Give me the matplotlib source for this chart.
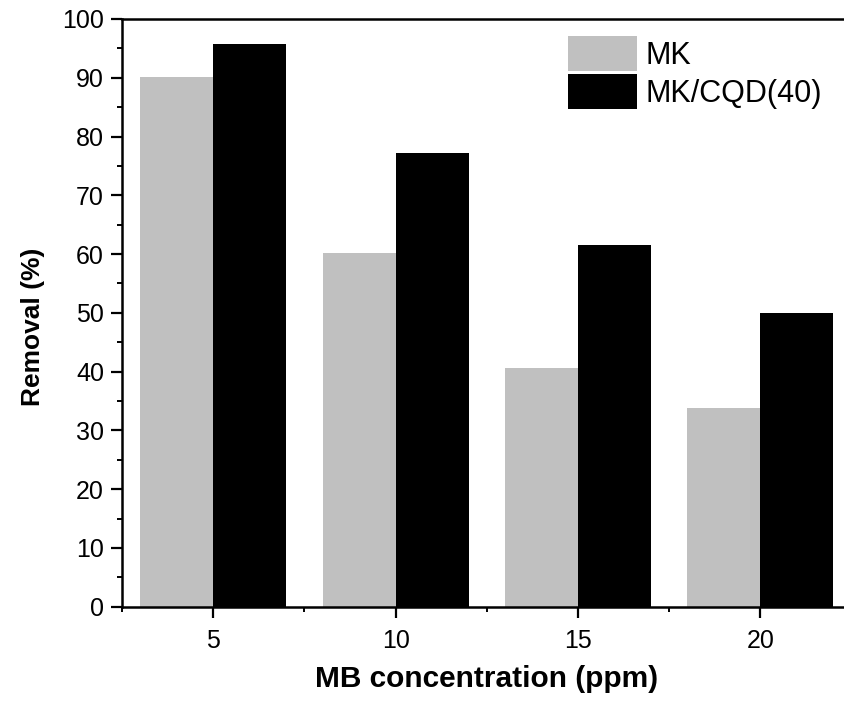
import matplotlib
matplotlib.use("Agg")
import matplotlib.pyplot as plt
from matplotlib.ticker import MultipleLocator, FixedLocator
import numpy as np

concentrations = [5, 10, 15, 20]
mk_removal = [90.1, 60.1, 40.7, 33.8]
mkcqd_removal = [95.7, 77.2, 61.5, 49.9]
series_labels = ["MK", "MK/CQD(40)"]

plt.rcParams['font.family'] = ['Liberation Sans', 'DejaVu Sans']

W, H = 844, 702
fig = plt.figure(figsize=(W / 100, H / 100), dpi=100)
left, right, bottom, top = 122, 851.5, 606.7, 19
ax = fig.add_axes([left / W, 1 - bottom / H, (right - left) / W, (bottom - top) / H])

x = np.array(concentrations, dtype=float)
bw = 2.0
ax.bar(x - bw / 2, mk_removal, width=bw, color='#c0c0c0', label=series_labels[0], linewidth=0)
ax.bar(x + bw / 2, mkcqd_removal, width=bw, color='black', label=series_labels[1], linewidth=0)

ax.set_xlim(2.5, 22.5)
ax.set_ylim(0, 100)
ax.set_xticks(concentrations)
ax.xaxis.set_minor_locator(FixedLocator([2.5, 7.5, 12.5, 17.5, 22.5]))
ax.yaxis.set_major_locator(MultipleLocator(10))
ax.yaxis.set_minor_locator(MultipleLocator(5))

for s in ax.spines.values():
    s.set_linewidth(1.8)
ax.tick_params(which='major', direction='out', length=8, width=1.6, labelsize=18)
ax.tick_params(axis='y', which='major', pad=5)
ax.tick_params(axis='x', which='major', pad=8)
ax.tick_params(which='minor', direction='out', length=3.6, width=1.4)

ax.set_xlabel("MB concentration (ppm)", fontsize=21.5, fontweight='bold', labelpad=9)
ax.set_ylabel("Removal (%)", fontsize=19, fontweight='bold')
ax.yaxis.set_label_coords(-0.105, 0.476)

ax.legend(loc='upper left', bbox_to_anchor=(0.611, 0.971), frameon=False, fontsize=22,
          handlelength=2.26, handleheight=1.385, handletextpad=0.3, labelspacing=0.1,
          borderaxespad=0, borderpad=0)

fig.savefig("out.png", dpi=100)
